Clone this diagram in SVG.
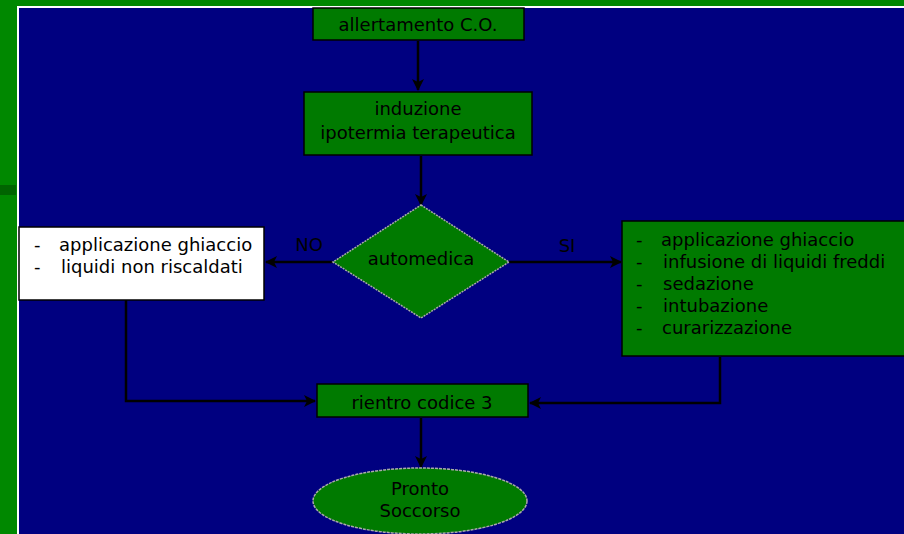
<svg xmlns="http://www.w3.org/2000/svg" width="904" height="534" viewBox="0 0 904 534">
<defs>
<marker id="ah" markerWidth="12" markerHeight="12" refX="11" refY="6" orient="auto" markerUnits="userSpaceOnUse">
<path d="M0,0 L12,6 L0,12 L3,6 Z" fill="#000"/>
</marker>
<style>
.box{fill:#007a00;stroke:#000;stroke-width:1.5}
.t{font-family:"DejaVu Sans",Verdana,sans-serif;font-size:18px;fill:#000}
.c{text-anchor:middle}
.ln{fill:none;stroke:#000;stroke-width:2.5}
</style>
</defs>
<rect x="0" y="0" width="904" height="534" fill="#008800"/>
<rect x="0" y="185" width="16" height="10" fill="#006400"/>
<rect x="17" y="6" width="887" height="528" fill="#ffffff"/>
<rect x="19" y="8" width="885" height="526" fill="#000080"/>
<g id="connectors">
<line class="ln" x1="418" y1="41" x2="418" y2="90" marker-end="url(#ah)"/>
<line class="ln" x1="421" y1="156" x2="421" y2="205" marker-end="url(#ah)"/>
<line class="ln" x1="333" y1="262" x2="266" y2="262" marker-end="url(#ah)"/>
<line class="ln" x1="509" y1="262" x2="621" y2="262" stroke="#555" marker-end="url(#ah)"/>
<polyline class="ln" points="126,300 126,401 315,401" marker-end="url(#ah)"/>
<polyline class="ln" points="720,357 720,403 530,403" marker-end="url(#ah)"/>
<line class="ln" x1="421" y1="418" x2="421" y2="467" marker-end="url(#ah)"/>
<text class="t c" x="309" y="251">NO</text>
<text class="t c" x="567" y="252">SI</text>
</g>
<g id="n1">
<rect class="box" x="313" y="8" width="211" height="32"/>
<text class="t c" x="418" y="31">allertamento C.O.</text>
</g>
<g id="n2">
<rect class="box" x="304" y="92" width="228" height="63"/>
<text class="t c" x="418" y="115">induzione</text>
<text class="t c" x="418" y="139">ipotermia terapeutica</text>
</g>
<g id="n3">
<polygon points="421,205 509,262 421,318 333,262" fill="#007a00" stroke="#aaa" stroke-width="1.5" stroke-dasharray="2,1"/>
<text class="t c" x="421" y="265">automedica</text>
</g>
<g id="n4">
<rect x="19" y="227" width="245" height="73" fill="#fff" stroke="#000" stroke-width="1.5"/>
<text class="t" x="34" y="251">-</text>
<text class="t" x="59" y="251">applicazione ghiaccio</text>
<text class="t" x="34" y="273">-</text>
<text class="t" x="61" y="273">liquidi non riscaldati</text>
</g>
<g id="n5">
<rect class="box" x="622" y="221" width="290" height="135"/>
<text class="t" x="636" y="246">-</text>
<text class="t" x="661" y="246">applicazione ghiaccio</text>
<text class="t" x="636" y="268">-</text>
<text class="t" x="663" y="268">infusione di liquidi freddi</text>
<text class="t" x="636" y="290">-</text>
<text class="t" x="663" y="290">sedazione</text>
<text class="t" x="636" y="312">-</text>
<text class="t" x="663" y="312">intubazione</text>
<text class="t" x="636" y="334">-</text>
<text class="t" x="662" y="334">curarizzazione</text>
</g>
<g id="n6">
<rect class="box" x="317" y="384" width="211" height="33"/>
<text class="t c" x="422" y="409">rientro codice 3</text>
</g>
<g id="n7">
<ellipse cx="420" cy="501" rx="107" ry="33" fill="#007a00" stroke="#aaa" stroke-width="1.5" stroke-dasharray="3,1"/>
<text class="t c" x="420" y="495">Pronto</text>
<text class="t c" x="420" y="517">Soccorso</text>
</g>
</svg>
